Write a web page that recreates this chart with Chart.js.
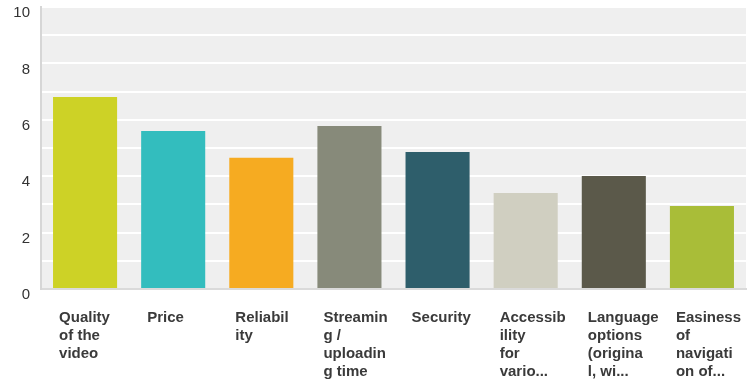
<!DOCTYPE html>
<html>
<head>
<meta charset="utf-8">
<script src="https://cdn.jsdelivr.net/npm/chart.js@4/dist/chart.umd.min.js"></script>
<style>
  html, body { margin: 0; padding: 0; background: #fff; }
  #wrap { width: 749px; height: 387px; position: relative; }
</style>
</head>
<body>
<div id="wrap"><canvas id="barChart"></canvas></div>
<script>
const categories = [
    ['Quality', 'of the', 'video'],
    ['Price'],
    ['Reliabil', 'ity'],
    ['Streamin', 'g /', 'uploadin', 'g time'],
    ['Security'],
    ['Accessib', 'ility', 'for', 'vario...'],
    ['Language', 'options', '(origina', 'l, wi...'],
    ['Easiness', 'of', 'navigati', 'on of...']
];
const scores = [6.81, 5.6, 4.65, 5.78, 4.86, 3.4, 4.01, 2.94];
const barColors = [
    'rgb(205, 210, 38)',
    'rgb(51, 189, 190)',
    'rgb(246, 171, 33)',
    'rgb(135, 138, 122)',
    'rgb(46, 94, 107)',
    'rgb(208, 207, 193)',
    'rgb(91, 89, 74)',
    'rgb(169, 189, 56)'
];
const yMin = 0;
const yMax = 10;

// grey plot background
const plotBackground = {
    id: 'plotBackground',
    beforeDraw(chart) {
        const { ctx, chartArea } = chart;
        ctx.save();
        ctx.fillStyle = '#efefef';
        ctx.fillRect(chartArea.left, chartArea.top, chartArea.right - chartArea.left, chartArea.bottom - chartArea.top);
        ctx.restore();
    }
};

const ctx = document.getElementById('barChart').getContext('2d');
window.barChart = new Chart(ctx, {
    type: 'bar',
    data: {
        labels: categories,
        datasets: [{
            data: scores,
            backgroundColor: barColors,
            barPercentage: 0.727,
            categoryPercentage: 1
        }]
    },
    options: {
        responsive: true,
        maintainAspectRatio: false,
        animation: false,
        layout: { padding: { top: 7, right: 3, left: 0, bottom: 0 } },
        plugins: {
            legend: { display: false },
            tooltip: { enabled: false }
        },
        scales: {
            x: {
                grid: { display: false, drawTicks: false },
                border: { color: '#dadada', width: 2 },
                ticks: {
                    autoSkip: false,
                    maxRotation: 0,
                    minRotation: 0,
                    align: 'start',
                    labelOffset: -26,
                    padding: 20,
                    color: '#3a3a3a',
                    font: { family: "'Liberation Sans', Arial, sans-serif", size: 15, weight: 'bold', lineHeight: 1.2 }
                },
                afterFit(scale) {
                    scale.height = 98;
                    scale.paddingLeft = 0;
                    scale.paddingRight = 0;
                }
            },
            y: {
                min: yMin,
                max: yMax,
                grid: { color: '#ffffff', lineWidth: 2, drawTicks: false },
                border: { color: '#d6d6d6', width: 2 },
                ticks: {
                    stepSize: 1,
                    padding: 11,
                    labelOffset: 6,
                    color: '#333333',
                    font: { family: "'Liberation Sans', Arial, sans-serif", size: 15 },
                    callback: function(value) {
                        return value % 2 === 0 ? value : '';
                    }
                },
                afterFit(scale) {
                    scale.width = 41;
                    scale.paddingTop = 0;
                    scale.paddingBottom = 0;
                }
            }
        }
    },
    plugins: [plotBackground]
});
</script>
</body>
</html>
